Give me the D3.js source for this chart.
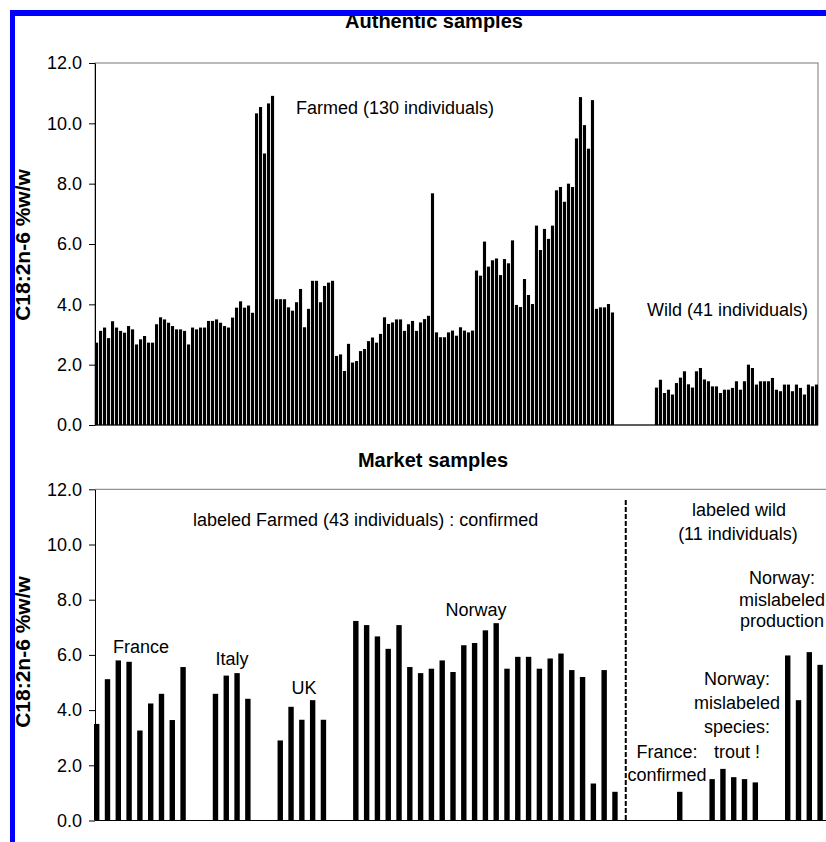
<!DOCTYPE html>
<html lang="en">
<head>
<meta charset="UTF-8">
<title>C18:2n-6 authentic vs market samples</title>
<script src="https://cdn.jsdelivr.net/npm/d3@7/dist/d3.min.js"></script>
<style>
    body { margin: 0; background: #fff; }
    svg text { font-family: "Liberation Sans", Arial, sans-serif; fill: #000; }
    .tick text { font-size: 18px; }
    .title { font-size: 20px; font-weight: bold; }
    .ylab { font-size: 21px; font-weight: bold; }
    .note { font-size: 18px; }
</style>
</head>
<body>
<svg width="826" height="842"></svg>
<script>
// ---- data (C18:2n-6, % w/w) ----
var farmedAuth = [
    2.73, 3.12, 3.23, 2.88, 3.44, 3.23, 3.12, 3.06, 3.28, 3.17,
    2.67, 2.84, 2.95, 2.73, 2.73, 3.34, 3.57, 3.50, 3.39, 3.28,
    3.17, 3.17, 3.12, 2.67, 3.23, 3.17, 3.23, 3.23, 3.45, 3.45,
    3.50, 3.39, 3.28, 3.23, 3.56, 3.89, 4.10, 3.89, 3.96, 3.72,
    10.33, 10.54, 9.00, 10.66, 10.91, 4.17, 4.17, 4.17, 3.90, 3.79,
    4.07, 4.51, 3.24, 3.85, 4.78, 4.78, 4.07, 4.61, 4.72, 4.78,
    2.29, 2.34, 1.79, 2.69, 2.07, 2.12, 2.45, 2.52, 2.78, 2.90,
    2.73, 3.02, 3.57, 3.35, 3.40, 3.50, 3.50, 3.12, 3.34, 3.45,
    3.12, 3.40, 3.51, 3.62, 7.68, 3.07, 2.91, 2.91, 3.07, 3.13,
    2.96, 3.24, 3.13, 3.07, 3.13, 5.12, 4.95, 6.08, 5.25, 5.46,
    5.52, 4.97, 5.50, 5.36, 6.12, 3.98, 3.91, 4.84, 4.31, 4.01,
    6.61, 5.80, 6.50, 6.17, 6.61, 7.78, 7.89, 7.40, 8.00, 7.89,
    9.50, 10.87, 9.94, 9.16, 10.77, 3.85, 3.90, 3.90, 4.01, 3.73
];
var wildAuth = [
    1.24, 1.50, 1.06, 1.17, 1.01, 1.39, 1.57, 1.78, 1.35, 1.24,
    1.78, 1.89, 1.51, 1.45, 1.28, 1.28, 1.06, 1.17, 1.17, 1.23,
    1.45, 1.17, 1.45, 2.00, 1.89, 1.34, 1.45, 1.45, 1.45, 1.56,
    1.17, 1.12, 1.34, 1.34, 1.12, 1.34, 1.23, 1.01, 1.34, 1.28,
    1.34
];
var authGap = 10;   // empty slots between farmed and wild

// market samples, labeled farmed
var mFrance = [3.50, 5.12, 5.80, 5.75, 3.26, 4.24, 4.59, 3.64, 5.56];
var mItaly = [4.59, 5.25, 5.34, 4.41];
var mUK = [2.90, 4.12, 3.65, 4.36, 3.65];
var mNorway = [7.23, 7.08, 6.67, 6.22, 7.08, 5.56, 5.34, 5.50, 5.80, 5.38,
               6.35, 6.43, 6.89, 7.15, 5.50, 5.93, 5.93, 5.50, 5.87, 6.05,
               5.45, 5.20, 1.34, 5.45, 1.04];
// market samples, labeled wild
var wFrance = [1.04];
var wTrout = [1.50, 1.87, 1.57, 1.50, 1.38];
var wNorway = [5.98, 4.36, 6.10, 5.64];

var yTicks = [0, 2, 4, 6, 8, 10, 12];

// ---- layout ----
var svg = d3.select("svg");

function slots(groups) {
    // groups: [values, empty slots before]
    var out = [], k = 0;
    groups.forEach(function (g) {
        k += g[1];
        g[0].forEach(function (v) { out.push({slot: k, v: v}); k++; });
    });
    out.total = k;
    return out;
}

// ===== top: authentic samples =====
var authBars = slots([[farmedAuth, 0], [wildAuth, authGap]]);
var xa = d3.scaleBand().domain(d3.range(authBars.total)).range([95, 818]).paddingInner(0.22);
var ya = d3.scaleLinear().domain([0, 12]).range([425, 63]);

var gTop = svg.append("g");
gTop.append("rect").attr("x", 95).attr("y", 63).attr("width", 723).attr("height", 362)
    .attr("fill", "none").attr("stroke", "#777").attr("stroke-width", 1);
gTop.selectAll("rect.bar").data(authBars).enter().append("rect")
    .attr("class", "bar")
    .attr("x", function (d) { return xa(d.slot); })
    .attr("width", xa.bandwidth())
    .attr("y", function (d) { return ya(d.v); })
    .attr("height", function (d) { return ya(0) - ya(d.v); })
    .attr("fill", "#000");
gTop.append("g").attr("transform", "translate(95,0)")
    .call(d3.axisLeft(ya).tickValues(yTicks).tickFormat(d3.format(".1f")).tickSize(6).tickSizeOuter(0).tickPadding(7));
gTop.append("line").attr("x1", 95).attr("x2", 818).attr("y1", 425).attr("y2", 425).attr("stroke", "#000");

gTop.append("text").attr("class", "title").attr("x", 434).attr("y", 28).attr("text-anchor", "middle").text("Authentic samples");
gTop.append("text").attr("class", "note").attr("x", 296).attr("y", 114).text("Farmed (130 individuals)");
gTop.append("text").attr("class", "note").attr("x", 647).attr("y", 316).text("Wild (41 individuals)");
gTop.append("text").attr("class", "ylab").attr("transform", "translate(30,245) rotate(-90)")
    .attr("text-anchor", "middle").text("C18:2n-6 %w/w");

// ===== bottom: market samples =====
var mBars = slots([[mFrance, 0], [mItaly, 2], [mUK, 2], [mNorway, 2],
                   [wFrance, 5], [wTrout, 2], [wNorway, 2]]);
var xm = d3.scaleBand().domain(d3.range(70)).range([94, 844.4]).paddingInner(0.5);
var ym = d3.scaleLinear().domain([0, 12]).range([820.5, 489.3]);

var gBot = svg.append("g");
gBot.append("line").attr("x1", 95).attr("x2", 826).attr("y1", 489.3).attr("y2", 489.3).attr("stroke", "#777");
gBot.selectAll("rect.bar").data(mBars).enter().append("rect")
    .attr("class", "bar")
    .attr("x", function (d) { return xm(d.slot); })
    .attr("width", xm.bandwidth())
    .attr("y", function (d) { return ym(d.v); })
    .attr("height", function (d) { return ym(0) - ym(d.v); })
    .attr("fill", "#000");
gBot.append("g").attr("transform", "translate(95,0)")
    .call(d3.axisLeft(ym).tickValues(yTicks).tickFormat(d3.format(".1f")).tickSize(6).tickSizeOuter(0).tickPadding(7));
gBot.append("line").attr("x1", 95).attr("x2", 826).attr("y1", 820.5).attr("y2", 820.5).attr("stroke", "#000");

// farmed / wild separator
var sepX = xm(49) + xm.bandwidth() / 2;
gBot.append("line").attr("x1", sepX).attr("x2", sepX).attr("y1", 500).attr("y2", 820)
    .attr("stroke", "#000").attr("stroke-width", 2).attr("stroke-dasharray", "5,2");

gBot.append("text").attr("class", "title").attr("x", 433).attr("y", 467).attr("text-anchor", "middle").text("Market samples");
gBot.append("text").attr("class", "ylab").attr("transform", "translate(30,652) rotate(-90)")
    .attr("text-anchor", "middle").text("C18:2n-6 %w/w");

var notes = [
    {x: 193, y: 526, a: "start", t: "labeled Farmed (43 individuals) : confirmed"},
    {x: 739, y: 516, a: "middle", t: "labeled wild"},
    {x: 738, y: 540, a: "middle", t: "(11 individuals)"},
    {x: 141, y: 653, a: "middle", t: "France"},
    {x: 232, y: 665, a: "middle", t: "Italy"},
    {x: 304, y: 694, a: "middle", t: "UK"},
    {x: 476, y: 616, a: "middle", t: "Norway"},
    {x: 667, y: 758, a: "middle", t: "France:"},
    {x: 667, y: 781, a: "middle", t: "confirmed"},
    {x: 737, y: 685, a: "middle", t: "Norway:"},
    {x: 737, y: 709, a: "middle", t: "mislabeled"},
    {x: 737, y: 733, a: "middle", t: "species:"},
    {x: 737, y: 758, a: "middle", t: "trout !"},
    // right edge of the page: kept inside the view
    {x: 782, y: 584, a: "middle", t: "Norway:"},
    {x: 782, y: 606, a: "middle", t: "mislabeled"},
    {x: 782, y: 627, a: "middle", t: "production"}
];
gBot.selectAll("text.note").data(notes).enter().append("text")
    .attr("class", "note")
    .attr("x", function (d) { return d.x; })
    .attr("y", function (d) { return d.y; })
    .attr("text-anchor", function (d) { return d.a; })
    .text(function (d) { return d.t; });

// blue frame
svg.append("rect").attr("x", 10).attr("y", 10).attr("width", 5).attr("height", 832).attr("fill", "#0000ff");
svg.append("rect").attr("x", 10).attr("y", 10).attr("width", 816).attr("height", 6).attr("fill", "#0000ff");
</script>
</body>
</html>
